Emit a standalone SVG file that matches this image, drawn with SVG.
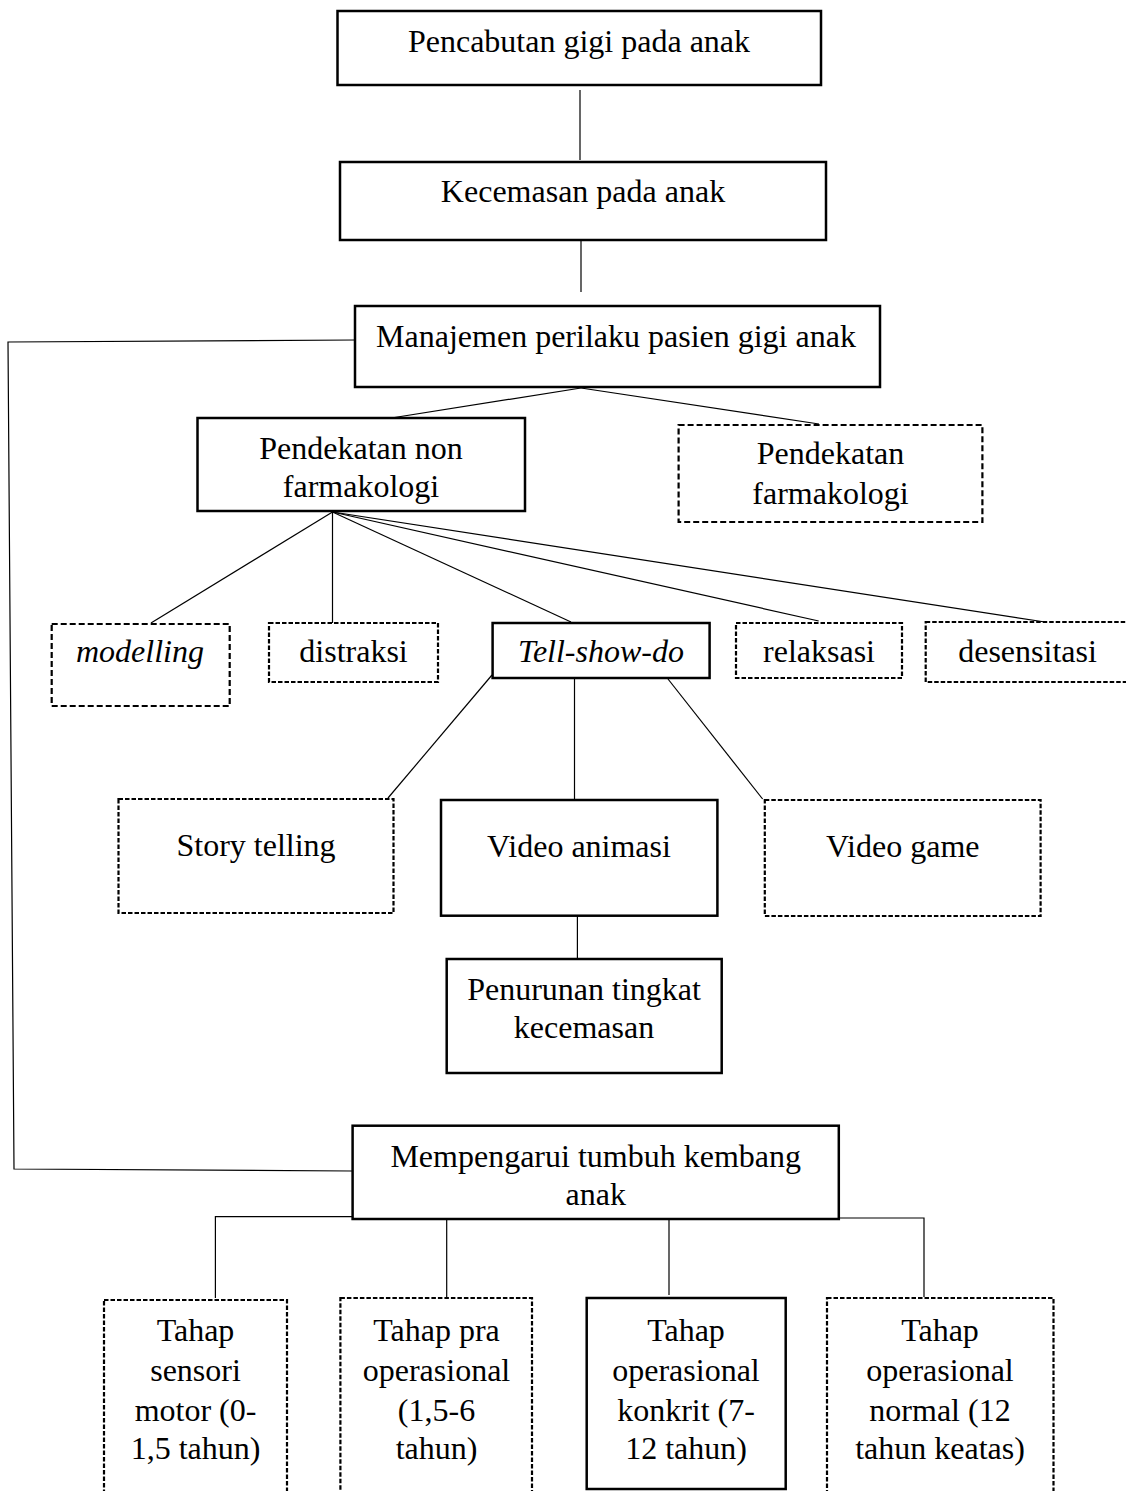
<svg xmlns="http://www.w3.org/2000/svg" width="1126" height="1491" viewBox="0 0 1126 1491">
<style>
  .box { fill: #fff; stroke: #000; stroke-width: 2.5; }
  .dash { fill: #fff; stroke: #000; stroke-width: 2.2; stroke-dasharray: 6 3; }
  .dash2 { fill: #fff; stroke: #000; stroke-width: 2.2; stroke-dasharray: 4.5 2; }
  .t { font-family: "Liberation Serif", "Times New Roman", serif; font-size: 32px; fill: #000; text-anchor: middle; }
  .i { font-style: italic; }
  .c line, .c polyline { stroke: #000; stroke-width: 1.2; fill: none; }
</style>
<rect width="1126" height="1491" fill="#fff"/>
<g id="connectors" class="c">
  <line x1="580" y1="90" x2="580" y2="160"/>
  <line x1="581" y1="241" x2="581" y2="292"/>
  <polyline points="355,340 8,342 14,1169 352,1171"/>
  <line x1="581" y1="388" x2="385" y2="419"/>
  <line x1="581" y1="388" x2="819" y2="424"/>
  <line x1="332.5" y1="512" x2="151" y2="623"/>
  <line x1="332.5" y1="512" x2="332.5" y2="623"/>
  <line x1="332.5" y1="512" x2="571" y2="622"/>
  <line x1="332.5" y1="512" x2="818.7" y2="621"/>
  <line x1="332.5" y1="512" x2="1045" y2="622"/>
  <line x1="492" y1="675" x2="388" y2="798"/>
  <line x1="574.5" y1="679" x2="574.5" y2="799"/>
  <line x1="668" y1="679" x2="762.6" y2="799"/>
  <line x1="577.4" y1="913" x2="577.4" y2="958"/>
  <polyline points="352.6,1216.7 215.4,1216.7 215.4,1298"/>
  <line x1="446.7" y1="1217" x2="446.7" y2="1297"/>
  <line x1="669" y1="1217" x2="669" y2="1295"/>
  <polyline points="838.8,1218 924,1218 924,1297"/>
</g>
<g id="n-pencabutan">
  <rect class="box" x="337.5" y="11" width="483.5" height="74"/>
  <text class="t" x="579" y="52">Pencabutan gigi pada anak</text>
</g>
<g id="n-kecemasan">
  <rect class="box" x="340" y="162" width="486" height="78"/>
  <text class="t" x="583" y="202">Kecemasan pada anak</text>
</g>
<g id="n-manajemen">
  <rect class="box" x="355" y="306" width="525" height="81"/>
  <text class="t" x="616" y="347">Manajemen perilaku pasien gigi anak</text>
</g>
<g id="n-nonfarmakologi">
  <rect class="box" x="197.5" y="418" width="327.5" height="93"/>
  <text class="t" x="361" y="459">Pendekatan non</text>
  <text class="t" x="361" y="497">farmakologi</text>
</g>
<g id="n-farmakologi">
  <rect class="dash" x="678.6" y="425" width="303.8" height="97"/>
  <text class="t" x="830.5" y="464">Pendekatan</text>
  <text class="t" x="830.5" y="504">farmakologi</text>
</g>
<g id="n-modelling">
  <rect class="dash" x="51.7" y="624" width="178" height="82"/>
  <text class="t i" x="140" y="662">modelling</text>
</g>
<g id="n-distraksi">
  <rect class="dash2" x="269" y="623" width="169" height="59"/>
  <text class="t" x="353.5" y="662">distraksi</text>
</g>
<g id="n-tellshowdo">
  <rect class="box" x="492.6" y="623" width="217" height="55"/>
  <text class="t i" x="601" y="662">Tell-show-do</text>
</g>
<g id="n-relaksasi">
  <rect class="dash2" x="736" y="623" width="166" height="55"/>
  <text class="t" x="819" y="662">relaksasi</text>
</g>
<g id="n-desensitasi">
  <rect class="dash2" x="925.7" y="622" width="204" height="60"/>
  <text class="t" x="1027.5" y="662">desensitasi</text>
</g>
<g id="n-storytelling">
  <rect class="dash2" x="118.5" y="799" width="275" height="114"/>
  <text class="t" x="256" y="856">Story telling</text>
</g>
<g id="n-videoanimasi">
  <rect class="box" x="441" y="800" width="276.4" height="115.7"/>
  <text class="t" x="579" y="857">Video animasi</text>
</g>
<g id="n-videogame">
  <rect class="dash2" x="764.8" y="800" width="275.8" height="116"/>
  <text class="t" x="902.7" y="857">Video game</text>
</g>
<g id="n-penurunan">
  <rect class="box" x="446.7" y="959" width="275" height="114"/>
  <text class="t" x="584" y="1000">Penurunan tingkat</text>
  <text class="t" x="584" y="1038">kecemasan</text>
</g>
<g id="n-mempengarui">
  <rect class="box" x="352.6" y="1125.7" width="486.2" height="93.3"/>
  <text class="t" x="595.7" y="1167">Mempengarui tumbuh kembang</text>
  <text class="t" x="595.7" y="1205">anak</text>
</g>
<g id="n-sensori">
  <rect class="dash2" x="104" y="1300" width="183" height="200"/>
  <text class="t" x="195.5" y="1341">Tahap</text>
  <text class="t" x="195.5" y="1381">sensori</text>
  <text class="t" x="195.5" y="1421">motor (0-</text>
  <text class="t" x="195.5" y="1459">1,5 tahun)</text>
</g>
<g id="n-praoperasional">
  <rect class="dash2" x="340.4" y="1298" width="191.6" height="200"/>
  <text class="t" x="436.5" y="1341">Tahap pra</text>
  <text class="t" x="436.5" y="1381">operasional</text>
  <text class="t" x="436.5" y="1421">(1,5-6</text>
  <text class="t" x="436.5" y="1459">tahun)</text>
</g>
<g id="n-konkrit">
  <rect class="box" x="586.7" y="1298" width="199" height="191"/>
  <text class="t" x="686" y="1341">Tahap</text>
  <text class="t" x="686" y="1381">operasional</text>
  <text class="t" x="686" y="1421">konkrit (7-</text>
  <text class="t" x="686" y="1459">12 tahun)</text>
</g>
<g id="n-normal">
  <rect class="dash2" x="827" y="1298" width="226.5" height="200"/>
  <text class="t" x="940" y="1341">Tahap</text>
  <text class="t" x="940" y="1381">operasional</text>
  <text class="t" x="940" y="1421">normal (12</text>
  <text class="t" x="940" y="1459">tahun keatas)</text>
</g>
</svg>
